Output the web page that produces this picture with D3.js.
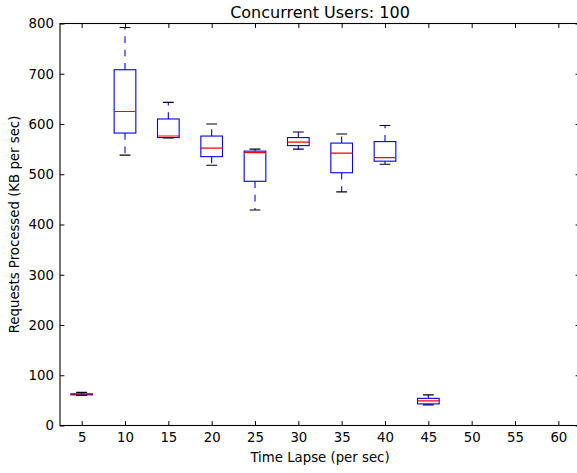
<!DOCTYPE html>
<meta charset="utf-8">
<script src="https://d3js.org/d3.v7.min.js"></script>
<html>
<style>
body { margin: 0; background: #fff; }
text { font-family: "DejaVu Sans", sans-serif; fill: #000; }
</style>
<body>
<div id="chart"></div>
</body>
<script>
// box plot values (KB per sec)
var lapses      = [5, 10, 15, 20, 25, 30, 35, 40, 45, 50, 55, 60];
var whiskerLow  = [60, 538, 572, 518, 429, 550, 465, 520, 41, 0, 0, 0];
var quartile1   = [61, 582, 573, 535, 486, 557, 503, 526, 43, 0, 0, 0];
var medians     = [62, 625, 576, 552, 543, 564, 542, 533, 49, 0, 0, 0];
var quartile3   = [63, 708, 610, 576, 546, 573, 562, 565, 54, 0, 0, 0];
var whiskerHigh = [66, 792, 643, 600, 550, 584, 580, 597, 61, 0, 0, 0];
var yTicks = [0, 100, 200, 300, 400, 500, 600, 700, 800];

var boxes = lapses.map(function (t, i) {
  return { t: t, lo: whiskerLow[i], q1: quartile1[i], med: medians[i], q3: quartile3[i], hi: whiskerHigh[i] };
});

var W = 577, H = 473;
var pLeft = 60, pRight = 580, pTop = 23.5, pBottom = 425.5;

var svg = d3.select("#chart").append("svg")
    .attr("width", W)
    .attr("height", H);

var x = d3.scaleLinear().domain([2.5, 62.5]).range([pLeft, pRight]);
var y = d3.scaleLinear().domain([0, 800]).range([pBottom, pTop]);

var boxW = (x(10) - x(5)) * 0.5,
    capW = boxW * 0.5;

svg.append("clipPath").attr("id", "plotclip")
  .append("rect")
    .attr("x", pLeft).attr("y", pTop)
    .attr("width", pRight - pLeft).attr("height", pBottom - pTop);

var plot = svg.append("g").attr("clip-path", "url(#plotclip)");

var g = plot.selectAll(".box")
    .data(boxes)
    .enter().append("g")
    .attr("class", "box");

// whiskers (dashed, start at box edge)
g.append("line")
    .attr("x1", function (d) { return x(d.t); })
    .attr("x2", function (d) { return x(d.t); })
    .attr("y1", function (d) { return y(d.q3); })
    .attr("y2", function (d) { return y(d.hi); })
    .attr("stroke", "#0000ff").attr("stroke-width", 1.1)
    .attr("stroke-dasharray", "6.7,6.7");
g.append("line")
    .attr("x1", function (d) { return x(d.t); })
    .attr("x2", function (d) { return x(d.t); })
    .attr("y1", function (d) { return y(d.q1); })
    .attr("y2", function (d) { return y(d.lo); })
    .attr("stroke", "#0000ff").attr("stroke-width", 1.1)
    .attr("stroke-dasharray", "6.7,6.7");

// caps
["lo", "hi"].forEach(function (k) {
  g.append("line")
      .attr("x1", function (d) { return x(d.t) - capW / 2; })
      .attr("x2", function (d) { return x(d.t) + capW / 2; })
      .attr("y1", function (d) { return y(d[k]); })
      .attr("y2", function (d) { return y(d[k]); })
      .attr("stroke", "#000").attr("stroke-width", 1.1);
});

// box
g.append("rect")
    .attr("x", function (d) { return x(d.t) - boxW / 2; })
    .attr("y", function (d) { return y(d.q3); })
    .attr("width", boxW)
    .attr("height", function (d) { return y(d.q1) - y(d.q3); })
    .attr("fill", "none")
    .attr("stroke", "#0000ff").attr("stroke-width", 1.1);

// median
g.append("line")
    .attr("x1", function (d) { return x(d.t) - boxW / 2; })
    .attr("x2", function (d) { return x(d.t) + boxW / 2; })
    .attr("y1", function (d) { return y(d.med); })
    .attr("y2", function (d) { return y(d.med); })
    .attr("stroke", "#ff0000").attr("stroke-width", 1.1)
    .attr("stroke-opacity", function (d) { return d.q3 - d.q1 < 5 ? 0.55 : 1; });

// axes (ticks inside, on all four sides)
var tickLen = 4.4;
svg.append("g")
    .attr("transform", "translate(0," + pBottom + ")")
    .call(d3.axisBottom(x).tickValues(lapses).tickSizeInner(-tickLen).tickSizeOuter(0).tickPadding(7))
    .call(function (a) { a.select(".domain").remove(); })
    .selectAll("text").style("font-size", "13.3px");
svg.append("g")
    .attr("transform", "translate(0," + pTop + ")")
    .call(d3.axisTop(x).tickValues(lapses).tickSizeInner(-tickLen).tickSizeOuter(0).tickFormat(""))
    .call(function (a) { a.select(".domain").remove(); });
svg.append("g")
    .attr("transform", "translate(" + pLeft + ",0)")
    .call(d3.axisLeft(y).tickValues(yTicks).tickSizeInner(-tickLen).tickSizeOuter(0).tickPadding(6))
    .call(function (a) { a.select(".domain").remove(); })
    .selectAll("text").style("font-size", "13.3px");
svg.append("g")
    .attr("transform", "translate(" + pRight + ",0)")
    .call(d3.axisRight(y).tickValues(yTicks).tickSizeInner(-tickLen).tickSizeOuter(0).tickFormat(""))
    .call(function (a) { a.select(".domain").remove(); });
svg.selectAll(".tick line").attr("stroke", "#000").attr("stroke-width", 1);

// frame
svg.append("rect")
    .attr("x", pLeft).attr("y", pTop)
    .attr("width", pRight - pLeft).attr("height", pBottom - pTop)
    .attr("fill", "none").attr("stroke", "#000").attr("stroke-width", 1.1);

// labels
svg.append("text")
    .attr("x", (pLeft + pRight) / 2).attr("y", 18)
    .attr("text-anchor", "middle")
    .style("font-size", "16px")
    .text("Concurrent Users: 100");
svg.append("text")
    .attr("x", (pLeft + pRight) / 2).attr("y", 462)
    .attr("text-anchor", "middle")
    .style("font-size", "13.3px")
    .text("Time Lapse (per sec)");
svg.append("text")
    .attr("transform", "translate(19," + (pTop + pBottom) / 2 + ") rotate(-90)")
    .attr("text-anchor", "middle")
    .style("font-size", "13.3px")
    .text("Requests Processed (KB per sec)");
</script>
</html>
